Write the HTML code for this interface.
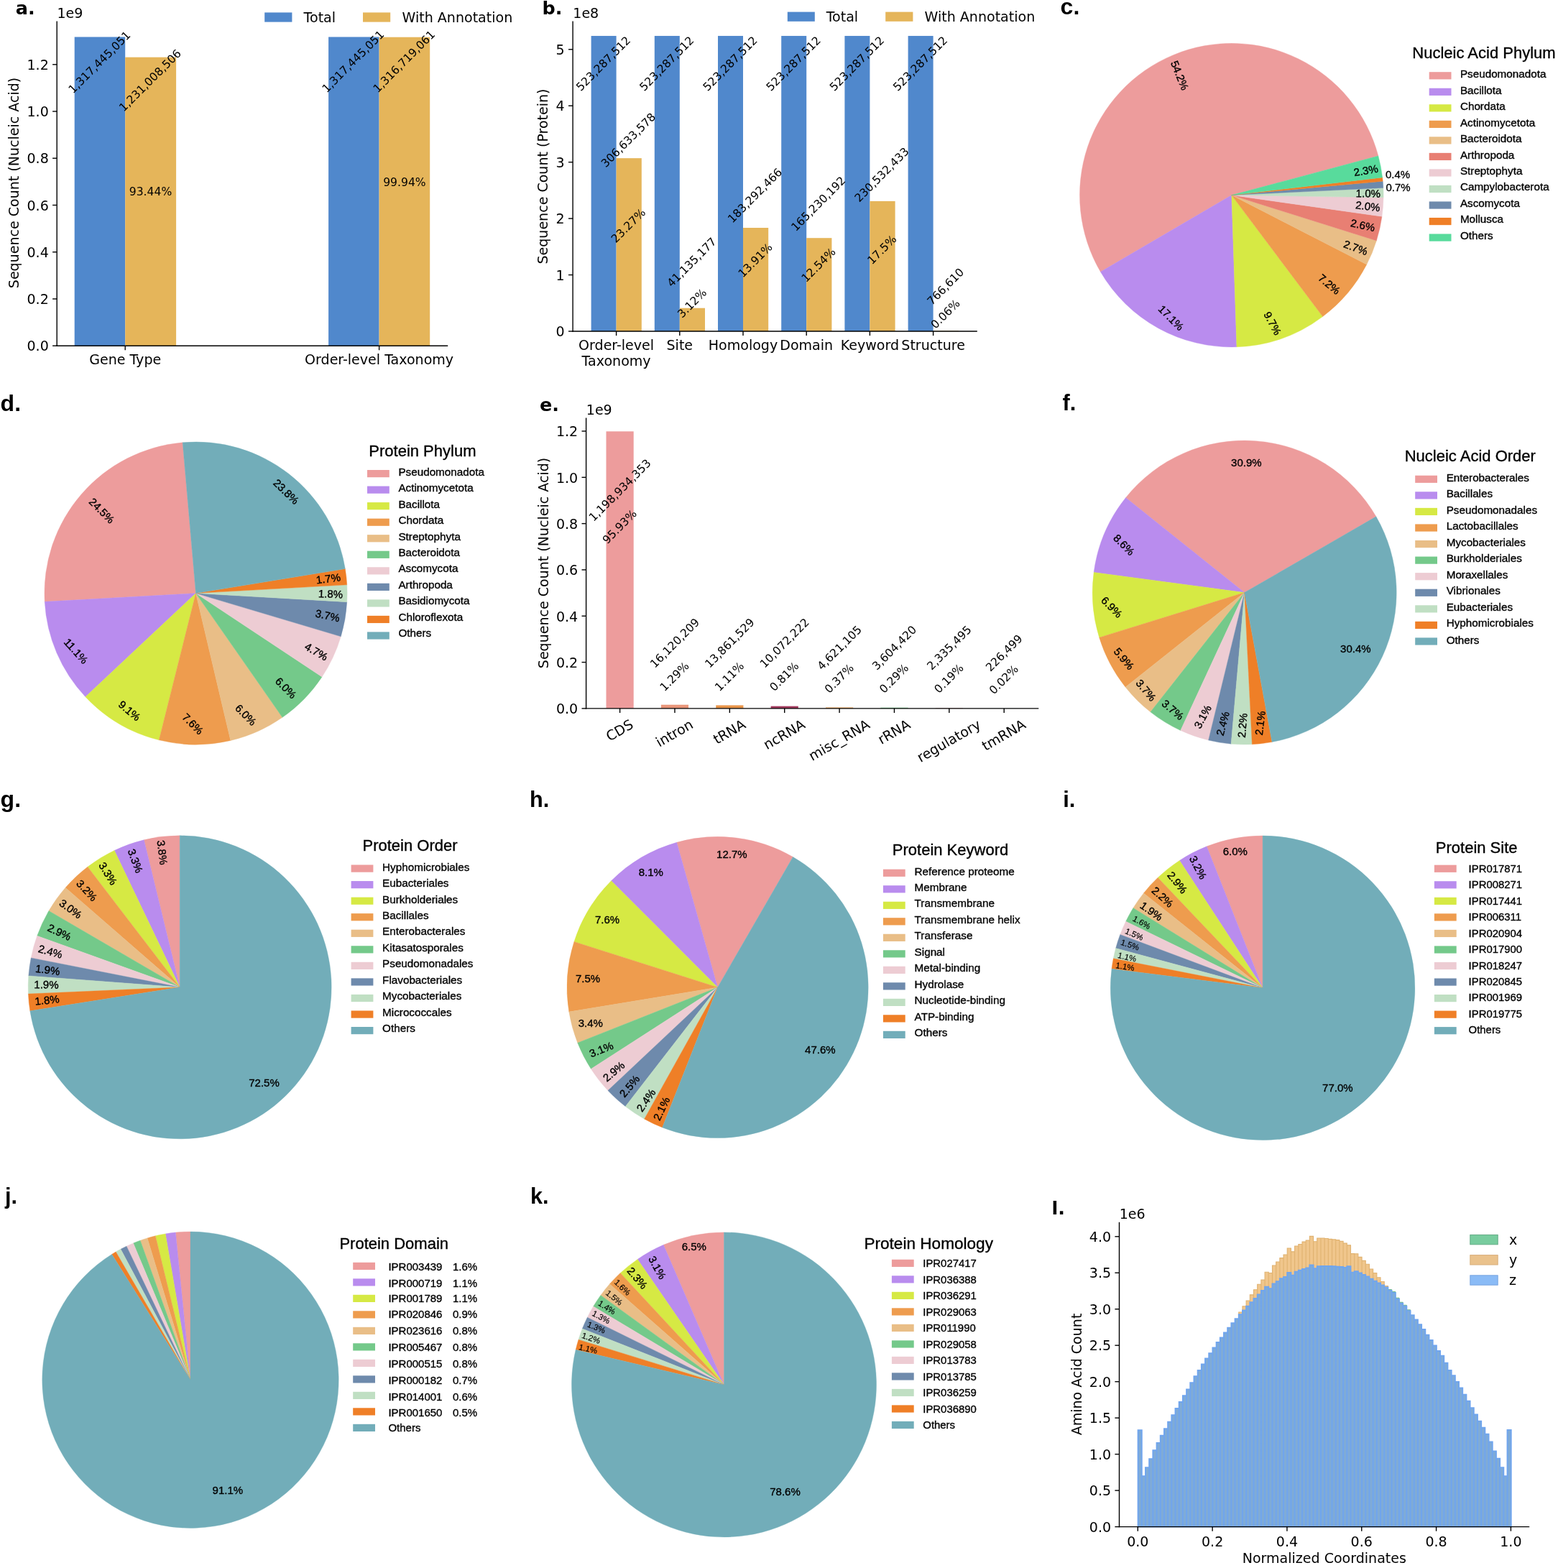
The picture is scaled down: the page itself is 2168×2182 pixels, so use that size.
<!DOCTYPE html>
<html lang="en">
<head>
<meta charset="utf-8">
<title>Dataset annotation statistics</title>
<style>
html, body { margin: 0; padding: 0; background: #ffffff; }
body { width: 2168px; height: 2182px; overflow: hidden; }
svg { display: block; }
text { fill: #000; }
.dv { font-family: 'DejaVu Sans', 'Liberation Sans', sans-serif; }
.dvb { font-family: 'DejaVu Sans', 'Liberation Sans', sans-serif; font-weight: bold; }
.ls { font-family: 'Liberation Sans', 'DejaVu Sans', sans-serif; }
.lsb { font-family: 'Liberation Sans', 'DejaVu Sans', sans-serif; font-weight: bold; }
</style>
</head>
<body>
<svg width="2168" height="2182" viewBox="0 0 2168 2182">
<rect x="0" y="0" width="2168" height="2182" fill="#ffffff"/>
<g id="pa">
<rect x="103.70" y="51.45" width="70.50" height="429.75" fill="#5088cc"/>
<rect x="174.20" y="79.65" width="70.90" height="401.55" fill="#e5b55a"/>
<rect x="457.10" y="51.45" width="70.50" height="429.75" fill="#5088cc"/>
<rect x="527.60" y="51.69" width="70.60" height="429.51" fill="#e5b55a"/>
<line x1="79.20" y1="29.50" x2="79.20" y2="481.90" stroke="#000" stroke-width="1.4"/>
<line x1="78.50" y1="481.20" x2="623.20" y2="481.20" stroke="#000" stroke-width="1.4"/>
<line x1="73.10" y1="481.20" x2="79.20" y2="481.20" stroke="#000" stroke-width="1.4"/>
<text class="dv" x="67.80" y="481.50" dy="0.365em" font-size="19.05" text-anchor="end">0.0</text>
<line x1="73.10" y1="415.96" x2="79.20" y2="415.96" stroke="#000" stroke-width="1.4"/>
<text class="dv" x="67.80" y="416.26" dy="0.365em" font-size="19.05" text-anchor="end">0.2</text>
<line x1="73.10" y1="350.72" x2="79.20" y2="350.72" stroke="#000" stroke-width="1.4"/>
<text class="dv" x="67.80" y="351.02" dy="0.365em" font-size="19.05" text-anchor="end">0.4</text>
<line x1="73.10" y1="285.48" x2="79.20" y2="285.48" stroke="#000" stroke-width="1.4"/>
<text class="dv" x="67.80" y="285.78" dy="0.365em" font-size="19.05" text-anchor="end">0.6</text>
<line x1="73.10" y1="220.24" x2="79.20" y2="220.24" stroke="#000" stroke-width="1.4"/>
<text class="dv" x="67.80" y="220.54" dy="0.365em" font-size="19.05" text-anchor="end">0.8</text>
<line x1="73.10" y1="155.00" x2="79.20" y2="155.00" stroke="#000" stroke-width="1.4"/>
<text class="dv" x="67.80" y="155.30" dy="0.365em" font-size="19.05" text-anchor="end">1.0</text>
<line x1="73.10" y1="89.76" x2="79.20" y2="89.76" stroke="#000" stroke-width="1.4"/>
<text class="dv" x="67.80" y="90.06" dy="0.365em" font-size="19.05" text-anchor="end">1.2</text>
<line x1="174.20" y1="481.20" x2="174.20" y2="487.30" stroke="#000" stroke-width="1.4"/>
<line x1="527.60" y1="481.20" x2="527.60" y2="487.30" stroke="#000" stroke-width="1.4"/>
<text class="dv" transform="translate(20.60 254.50) rotate(-90.00)" dy="0.27em" font-size="19.05" text-anchor="middle">Sequence Count (Nucleic Acid)</text>
<text class="dv" x="79.40" y="24.90" font-size="19.05">1e9</text>
<text class="dv" x="174.20" y="506.90" font-size="19.05" text-anchor="middle">Gene Type</text>
<text class="dv" x="527.60" y="506.90" font-size="19.05" text-anchor="middle">Order-level Taxonomy</text>
<text class="dv" transform="translate(138.80 87.10) rotate(-45.00)" dy="0.30em" font-size="15.6" text-anchor="middle">1,317,445,051</text>
<text class="dv" transform="translate(209.30 112.40) rotate(-45.00)" dy="0.30em" font-size="15.6" text-anchor="middle">1,231,008,506</text>
<text class="dv" transform="translate(491.80 86.00) rotate(-45.00)" dy="0.30em" font-size="15.6" text-anchor="middle">1,317,445,051</text>
<text class="dv" transform="translate(562.70 86.00) rotate(-45.00)" dy="0.30em" font-size="15.6" text-anchor="middle">1,316,719,061</text>
<text class="dv" x="209.50" y="266.70" dy="0.36em" font-size="15.6" text-anchor="middle">93.44%</text>
<text class="dv" x="562.90" y="253.60" dy="0.36em" font-size="15.6" text-anchor="middle">99.94%</text>
<rect x="368.20" y="17.40" width="38.20" height="13.20" fill="#5088cc"/>
<text class="dv" x="422.60" y="24.00" dy="0.36em" font-size="19.05">Total</text>
<rect x="505.00" y="17.40" width="38.20" height="13.20" fill="#e5b55a"/>
<text class="dv" x="559.60" y="24.00" dy="0.36em" font-size="19.05">With Annotation</text>
<text class="dvb" x="21.70" y="20.20" font-size="25.5">a.</text>
</g>
<g id="pb">
<rect x="822.60" y="49.96" width="35.00" height="411.04" fill="#5088cc"/>
<rect x="857.60" y="220.14" width="35.20" height="240.86" fill="#e5b55a"/>
<rect x="910.80" y="49.96" width="35.00" height="411.04" fill="#5088cc"/>
<rect x="945.80" y="428.69" width="35.20" height="32.31" fill="#e5b55a"/>
<rect x="999.00" y="49.96" width="35.00" height="411.04" fill="#5088cc"/>
<rect x="1034.00" y="317.02" width="35.20" height="143.98" fill="#e5b55a"/>
<rect x="1087.20" y="49.96" width="35.00" height="411.04" fill="#5088cc"/>
<rect x="1122.20" y="331.21" width="35.20" height="129.79" fill="#e5b55a"/>
<rect x="1175.40" y="49.96" width="35.00" height="411.04" fill="#5088cc"/>
<rect x="1210.40" y="279.92" width="35.20" height="181.08" fill="#e5b55a"/>
<rect x="1263.60" y="49.96" width="35.00" height="411.04" fill="#5088cc"/>
<rect x="1298.60" y="460.40" width="35.20" height="0.60" fill="#e5b55a"/>
<line x1="797.10" y1="29.50" x2="797.10" y2="461.70" stroke="#000" stroke-width="1.4"/>
<line x1="796.40" y1="461.00" x2="1359.80" y2="461.00" stroke="#000" stroke-width="1.4"/>
<line x1="791.00" y1="461.00" x2="797.10" y2="461.00" stroke="#000" stroke-width="1.4"/>
<text class="dv" x="785.70" y="461.30" dy="0.365em" font-size="19.05" text-anchor="end">0</text>
<line x1="791.00" y1="382.55" x2="797.10" y2="382.55" stroke="#000" stroke-width="1.4"/>
<text class="dv" x="785.70" y="382.85" dy="0.365em" font-size="19.05" text-anchor="end">1</text>
<line x1="791.00" y1="304.10" x2="797.10" y2="304.10" stroke="#000" stroke-width="1.4"/>
<text class="dv" x="785.70" y="304.40" dy="0.365em" font-size="19.05" text-anchor="end">2</text>
<line x1="791.00" y1="225.65" x2="797.10" y2="225.65" stroke="#000" stroke-width="1.4"/>
<text class="dv" x="785.70" y="225.95" dy="0.365em" font-size="19.05" text-anchor="end">3</text>
<line x1="791.00" y1="147.20" x2="797.10" y2="147.20" stroke="#000" stroke-width="1.4"/>
<text class="dv" x="785.70" y="147.50" dy="0.365em" font-size="19.05" text-anchor="end">4</text>
<line x1="791.00" y1="68.75" x2="797.10" y2="68.75" stroke="#000" stroke-width="1.4"/>
<text class="dv" x="785.70" y="69.05" dy="0.365em" font-size="19.05" text-anchor="end">5</text>
<line x1="857.60" y1="461.00" x2="857.60" y2="467.10" stroke="#000" stroke-width="1.4"/>
<line x1="945.80" y1="461.00" x2="945.80" y2="467.10" stroke="#000" stroke-width="1.4"/>
<line x1="1034.00" y1="461.00" x2="1034.00" y2="467.10" stroke="#000" stroke-width="1.4"/>
<line x1="1122.20" y1="461.00" x2="1122.20" y2="467.10" stroke="#000" stroke-width="1.4"/>
<line x1="1210.40" y1="461.00" x2="1210.40" y2="467.10" stroke="#000" stroke-width="1.4"/>
<line x1="1298.60" y1="461.00" x2="1298.60" y2="467.10" stroke="#000" stroke-width="1.4"/>
<text class="dv" transform="translate(757.30 245.50) rotate(-90.00)" dy="0.27em" font-size="19.05" text-anchor="middle">Sequence Count (Protein)</text>
<text class="dv" x="797.30" y="24.90" font-size="19.05">1e8</text>
<text class="dv" x="857.60" y="486.60" font-size="19.05" text-anchor="middle">Order-level</text>
<text class="dv" x="945.80" y="486.60" font-size="19.05" text-anchor="middle">Site</text>
<text class="dv" x="1034.00" y="486.60" font-size="19.05" text-anchor="middle">Homology</text>
<text class="dv" x="1122.20" y="486.60" font-size="19.05" text-anchor="middle">Domain</text>
<text class="dv" x="1210.40" y="486.60" font-size="19.05" text-anchor="middle">Keyword</text>
<text class="dv" x="1298.60" y="486.60" font-size="19.05" text-anchor="middle">Structure</text>
<text class="dv" x="857.60" y="509.00" font-size="19.05" text-anchor="middle">Taxonomy</text>
<text class="dv" transform="translate(840.00 89.00) rotate(-45.00)" dy="0.30em" font-size="15.6" text-anchor="middle">523,287,512</text>
<text class="dv" transform="translate(928.20 89.00) rotate(-45.00)" dy="0.30em" font-size="15.6" text-anchor="middle">523,287,512</text>
<text class="dv" transform="translate(1016.40 89.00) rotate(-45.00)" dy="0.30em" font-size="15.6" text-anchor="middle">523,287,512</text>
<text class="dv" transform="translate(1104.60 89.00) rotate(-45.00)" dy="0.30em" font-size="15.6" text-anchor="middle">523,287,512</text>
<text class="dv" transform="translate(1192.80 89.00) rotate(-45.00)" dy="0.30em" font-size="15.6" text-anchor="middle">523,287,512</text>
<text class="dv" transform="translate(1281.00 89.00) rotate(-45.00)" dy="0.30em" font-size="15.6" text-anchor="middle">523,287,512</text>
<text class="dv" transform="translate(874.80 195.40) rotate(-45.00)" dy="0.30em" font-size="15.6" text-anchor="middle">306,633,578</text>
<text class="dv" transform="translate(874.80 314.50) rotate(-45.00)" dy="0.30em" font-size="15.6" text-anchor="middle">23.27%</text>
<text class="dv" transform="translate(963.00 365.40) rotate(-45.00)" dy="0.30em" font-size="15.6" text-anchor="middle">41,135,177</text>
<text class="dv" transform="translate(963.40 422.40) rotate(-45.00)" dy="0.30em" font-size="15.6" text-anchor="middle">3.12%</text>
<text class="dv" transform="translate(1051.00 272.50) rotate(-45.00)" dy="0.30em" font-size="15.6" text-anchor="middle">183,292,466</text>
<text class="dv" transform="translate(1051.50 362.70) rotate(-45.00)" dy="0.30em" font-size="15.6" text-anchor="middle">13.91%</text>
<text class="dv" transform="translate(1139.20 284.00) rotate(-45.00)" dy="0.30em" font-size="15.6" text-anchor="middle">165,230,192</text>
<text class="dv" transform="translate(1139.50 369.20) rotate(-45.00)" dy="0.30em" font-size="15.6" text-anchor="middle">12.54%</text>
<text class="dv" transform="translate(1227.40 243.60) rotate(-45.00)" dy="0.30em" font-size="15.6" text-anchor="middle">230,532,433</text>
<text class="dv" transform="translate(1227.70 348.00) rotate(-45.00)" dy="0.30em" font-size="15.6" text-anchor="middle">17.5%</text>
<text class="dv" transform="translate(1316.20 399.30) rotate(-45.00)" dy="0.30em" font-size="15.6" text-anchor="middle">766,610</text>
<text class="dv" transform="translate(1316.00 437.50) rotate(-45.00)" dy="0.30em" font-size="15.6" text-anchor="middle">0.06%</text>
<rect x="1095.80" y="16.60" width="38.00" height="13.20" fill="#5088cc"/>
<text class="dv" x="1149.70" y="23.20" dy="0.36em" font-size="19.05">Total</text>
<rect x="1232.20" y="16.60" width="38.20" height="13.20" fill="#e5b55a"/>
<text class="dv" x="1286.60" y="23.20" dy="0.36em" font-size="19.05">With Annotation</text>
<text class="dvb" x="754.60" y="20.20" font-size="25.5">b.</text>
</g>
<g id="pc">
<path d="M1713.80 271.60L1917.90 216.91A211.30 211.30 0 1 0 1531.39 378.26Z" fill="#ed9c9c" stroke="#ed9c9c" stroke-width="0.4"/>
<path d="M1713.80 271.60L1531.39 378.26A211.30 211.30 0 0 0 1720.94 482.78Z" fill="#b98cee" stroke="#b98cee" stroke-width="0.4"/>
<path d="M1713.80 271.60L1720.94 482.78A211.30 211.30 0 0 0 1840.64 440.59Z" fill="#d6e944" stroke="#d6e944" stroke-width="0.4"/>
<path d="M1713.80 271.60L1840.64 440.59A211.30 211.30 0 0 0 1901.80 368.06Z" fill="#ee9c4e" stroke="#ee9c4e" stroke-width="0.4"/>
<path d="M1713.80 271.60L1901.80 368.06A211.30 211.30 0 0 0 1915.40 334.90Z" fill="#e9be87" stroke="#e9be87" stroke-width="0.4"/>
<path d="M1713.80 271.60L1915.40 334.90A211.30 211.30 0 0 0 1923.01 301.24Z" fill="#e87f73" stroke="#e87f73" stroke-width="0.4"/>
<path d="M1713.80 271.60L1923.01 301.24A211.30 211.30 0 0 0 1925.08 274.76Z" fill="#edccd3" stroke="#edccd3" stroke-width="0.4"/>
<path d="M1713.80 271.60L1925.08 274.76A211.30 211.30 0 0 0 1924.86 261.47Z" fill="#c0dfc3" stroke="#c0dfc3" stroke-width="0.4"/>
<path d="M1713.80 271.60L1924.86 261.47A211.30 211.30 0 0 0 1924.21 252.19Z" fill="#6e8aac" stroke="#6e8aac" stroke-width="0.4"/>
<path d="M1713.80 271.60L1924.21 252.19A211.30 211.30 0 0 0 1923.65 246.90Z" fill="#ef7f27" stroke="#ef7f27" stroke-width="0.4"/>
<path d="M1713.80 271.60L1923.65 246.90A211.30 211.30 0 0 0 1917.90 216.91Z" fill="#58db9c" stroke="#58db9c" stroke-width="0.4"/>
<text class="ls" transform="translate(1641.30 105.00) rotate(68.00)" dy="0.33em" font-size="15.0" text-anchor="middle" stroke="#000" stroke-width="0.35">54.2%</text>
<text class="ls" transform="translate(1629.30 442.50) rotate(45.00)" dy="0.33em" font-size="15.0" text-anchor="middle" stroke="#000" stroke-width="0.35">17.1%</text>
<text class="ls" transform="translate(1770.50 450.00) rotate(62.00)" dy="0.33em" font-size="15.0" text-anchor="middle" stroke="#000" stroke-width="0.35">9.7%</text>
<text class="ls" transform="translate(1849.50 395.80) rotate(40.00)" dy="0.33em" font-size="15.0" text-anchor="middle" stroke="#000" stroke-width="0.35">7.2%</text>
<text class="ls" transform="translate(1886.30 345.00) rotate(20.00)" dy="0.33em" font-size="15.0" text-anchor="middle" stroke="#000" stroke-width="0.35">2.7%</text>
<text class="ls" transform="translate(1896.30 313.80) rotate(12.00)" dy="0.33em" font-size="15.0" text-anchor="middle" stroke="#000" stroke-width="0.35">2.6%</text>
<text class="ls" transform="translate(1903.30 287.50) rotate(7.00)" dy="0.33em" font-size="15.0" text-anchor="middle" stroke="#000" stroke-width="0.35">2.0%</text>
<text class="ls" transform="translate(1903.80 269.50) rotate(1.00)" dy="0.33em" font-size="15.0" text-anchor="middle" stroke="#000" stroke-width="0.35">1.0%</text>
<text class="ls" transform="translate(1900.70 237.50) rotate(-10.00)" dy="0.33em" font-size="15.0" text-anchor="middle" stroke="#000" stroke-width="0.35">2.3%</text>
<text class="ls" transform="translate(1945.10 242.70) rotate(0.00)" dy="0.33em" font-size="15.0" text-anchor="middle" stroke="#000" stroke-width="0.35">0.4%</text>
<text class="ls" transform="translate(1945.50 260.60) rotate(0.00)" dy="0.33em" font-size="15.0" text-anchor="middle" stroke="#000" stroke-width="0.35">0.7%</text>
<text class="ls" x="1965.30" y="80.90" font-size="22.0" stroke="#000" stroke-width="0.35">Nucleic Acid Phylum</text>
<rect x="1988.70" y="100.20" width="30.80" height="10.20" fill="#ed9c9c"/>
<text class="ls" x="2031.90" y="108.20" font-size="15.25" stroke="#000" stroke-width="0.35">Pseudomonadota</text>
<rect x="1988.70" y="122.73" width="30.80" height="10.20" fill="#b98cee"/>
<text class="ls" x="2031.90" y="130.66" font-size="15.25" stroke="#000" stroke-width="0.35">Bacillota</text>
<rect x="1988.70" y="145.26" width="30.80" height="10.20" fill="#d6e944"/>
<text class="ls" x="2031.90" y="153.12" font-size="15.25" stroke="#000" stroke-width="0.35">Chordata</text>
<rect x="1988.70" y="167.79" width="30.80" height="10.20" fill="#ee9c4e"/>
<text class="ls" x="2031.90" y="175.58" font-size="15.25" stroke="#000" stroke-width="0.35">Actinomycetota</text>
<rect x="1988.70" y="190.32" width="30.80" height="10.20" fill="#e9be87"/>
<text class="ls" x="2031.90" y="198.04" font-size="15.25" stroke="#000" stroke-width="0.35">Bacteroidota</text>
<rect x="1988.70" y="212.85" width="30.80" height="10.20" fill="#e87f73"/>
<text class="ls" x="2031.90" y="220.50" font-size="15.25" stroke="#000" stroke-width="0.35">Arthropoda</text>
<rect x="1988.70" y="235.38" width="30.80" height="10.20" fill="#edccd3"/>
<text class="ls" x="2031.90" y="242.96" font-size="15.25" stroke="#000" stroke-width="0.35">Streptophyta</text>
<rect x="1988.70" y="257.91" width="30.80" height="10.20" fill="#c0dfc3"/>
<text class="ls" x="2031.90" y="265.42" font-size="15.25" stroke="#000" stroke-width="0.35">Campylobacterota</text>
<rect x="1988.70" y="280.44" width="30.80" height="10.20" fill="#6e8aac"/>
<text class="ls" x="2031.90" y="287.88" font-size="15.25" stroke="#000" stroke-width="0.35">Ascomycota</text>
<rect x="1988.70" y="302.97" width="30.80" height="10.20" fill="#ef7f27"/>
<text class="ls" x="2031.90" y="310.34" font-size="15.25" stroke="#000" stroke-width="0.35">Mollusca</text>
<rect x="1988.70" y="325.50" width="30.80" height="10.20" fill="#58db9c"/>
<text class="ls" x="2031.90" y="332.80" font-size="15.25" stroke="#000" stroke-width="0.35">Others</text>
<text class="lsb" x="1475.60" y="19.90" font-size="32">c.</text>
</g>
<g id="pd">
<path d="M272.50 825.60L254.15 615.80A210.60 210.60 0 0 0 62.23 837.36Z" fill="#ed9c9c" stroke="#ed9c9c" stroke-width="0.4"/>
<path d="M272.50 825.60L62.23 837.36A210.60 210.60 0 0 0 118.88 969.66Z" fill="#b98cee" stroke="#b98cee" stroke-width="0.4"/>
<path d="M272.50 825.60L118.88 969.66A210.60 210.60 0 0 0 221.27 1029.87Z" fill="#d6e944" stroke="#d6e944" stroke-width="0.4"/>
<path d="M272.50 825.60L221.27 1029.87A210.60 210.60 0 0 0 320.88 1030.57Z" fill="#ee9c4e" stroke="#ee9c4e" stroke-width="0.4"/>
<path d="M272.50 825.60L320.88 1030.57A210.60 210.60 0 0 0 392.93 998.37Z" fill="#e9be87" stroke="#e9be87" stroke-width="0.4"/>
<path d="M272.50 825.60L392.93 998.37A210.60 210.60 0 0 0 448.08 941.90Z" fill="#74c98a" stroke="#74c98a" stroke-width="0.4"/>
<path d="M272.50 825.60L448.08 941.90A210.60 210.60 0 0 0 474.32 885.77Z" fill="#edccd3" stroke="#edccd3" stroke-width="0.4"/>
<path d="M272.50 825.60L474.32 885.77A210.60 210.60 0 0 0 482.76 837.65Z" fill="#6e8aac" stroke="#6e8aac" stroke-width="0.4"/>
<path d="M272.50 825.60L482.76 837.65A210.60 210.60 0 0 0 482.77 813.84Z" fill="#c0dfc3" stroke="#c0dfc3" stroke-width="0.4"/>
<path d="M272.50 825.60L482.77 813.84A210.60 210.60 0 0 0 480.32 791.49Z" fill="#ef7f27" stroke="#ef7f27" stroke-width="0.4"/>
<path d="M272.50 825.60L480.32 791.49A210.60 210.60 0 0 0 254.15 615.80Z" fill="#72adb9" stroke="#72adb9" stroke-width="0.4"/>
<text class="ls" transform="translate(141.30 710.80) rotate(45.00)" dy="0.33em" font-size="15.0" text-anchor="middle" stroke="#000" stroke-width="0.35">24.5%</text>
<text class="ls" transform="translate(398.00 684.50) rotate(44.00)" dy="0.33em" font-size="15.0" text-anchor="middle" stroke="#000" stroke-width="0.35">23.8%</text>
<text class="ls" transform="translate(105.50 906.30) rotate(48.00)" dy="0.33em" font-size="15.0" text-anchor="middle" stroke="#000" stroke-width="0.35">11.1%</text>
<text class="ls" transform="translate(180.00 989.30) rotate(40.00)" dy="0.33em" font-size="15.0" text-anchor="middle" stroke="#000" stroke-width="0.35">9.1%</text>
<text class="ls" transform="translate(268.00 1007.50) rotate(45.00)" dy="0.33em" font-size="15.0" text-anchor="middle" stroke="#000" stroke-width="0.35">7.6%</text>
<text class="ls" transform="translate(341.80 995.00) rotate(45.00)" dy="0.33em" font-size="15.0" text-anchor="middle" stroke="#000" stroke-width="0.35">6.0%</text>
<text class="ls" transform="translate(397.50 957.50) rotate(45.00)" dy="0.33em" font-size="15.0" text-anchor="middle" stroke="#000" stroke-width="0.35">6.0%</text>
<text class="ls" transform="translate(440.00 907.00) rotate(30.00)" dy="0.33em" font-size="15.0" text-anchor="middle" stroke="#000" stroke-width="0.35">4.7%</text>
<text class="ls" transform="translate(455.80 857.00) rotate(12.00)" dy="0.33em" font-size="15.0" text-anchor="middle" stroke="#000" stroke-width="0.35">3.7%</text>
<text class="ls" transform="translate(460.00 826.80) rotate(2.00)" dy="0.33em" font-size="15.0" text-anchor="middle" stroke="#000" stroke-width="0.35">1.8%</text>
<text class="ls" transform="translate(456.80 805.50) rotate(-7.00)" dy="0.33em" font-size="15.0" text-anchor="middle" stroke="#000" stroke-width="0.35">1.7%</text>
<text class="ls" x="513.30" y="634.50" font-size="22.0" stroke="#000" stroke-width="0.35">Protein Phylum</text>
<rect x="511.00" y="654.00" width="30.80" height="10.20" fill="#ed9c9c"/>
<text class="ls" x="554.40" y="661.80" font-size="15.25" stroke="#000" stroke-width="0.35">Pseudomonadota</text>
<rect x="511.00" y="676.54" width="30.80" height="10.20" fill="#b98cee"/>
<text class="ls" x="554.40" y="684.24" font-size="15.25" stroke="#000" stroke-width="0.35">Actinomycetota</text>
<rect x="511.00" y="699.08" width="30.80" height="10.20" fill="#d6e944"/>
<text class="ls" x="554.40" y="706.68" font-size="15.25" stroke="#000" stroke-width="0.35">Bacillota</text>
<rect x="511.00" y="721.62" width="30.80" height="10.20" fill="#ee9c4e"/>
<text class="ls" x="554.40" y="729.12" font-size="15.25" stroke="#000" stroke-width="0.35">Chordata</text>
<rect x="511.00" y="744.16" width="30.80" height="10.20" fill="#e9be87"/>
<text class="ls" x="554.40" y="751.56" font-size="15.25" stroke="#000" stroke-width="0.35">Streptophyta</text>
<rect x="511.00" y="766.70" width="30.80" height="10.20" fill="#74c98a"/>
<text class="ls" x="554.40" y="774.00" font-size="15.25" stroke="#000" stroke-width="0.35">Bacteroidota</text>
<rect x="511.00" y="789.24" width="30.80" height="10.20" fill="#edccd3"/>
<text class="ls" x="554.40" y="796.44" font-size="15.25" stroke="#000" stroke-width="0.35">Ascomycota</text>
<rect x="511.00" y="811.78" width="30.80" height="10.20" fill="#6e8aac"/>
<text class="ls" x="554.40" y="818.88" font-size="15.25" stroke="#000" stroke-width="0.35">Arthropoda</text>
<rect x="511.00" y="834.32" width="30.80" height="10.20" fill="#c0dfc3"/>
<text class="ls" x="554.40" y="841.32" font-size="15.25" stroke="#000" stroke-width="0.35">Basidiomycota</text>
<rect x="511.00" y="856.86" width="30.80" height="10.20" fill="#ef7f27"/>
<text class="ls" x="554.40" y="863.76" font-size="15.25" stroke="#000" stroke-width="0.35">Chloroflexota</text>
<rect x="511.00" y="879.40" width="30.80" height="10.20" fill="#72adb9"/>
<text class="ls" x="554.40" y="886.20" font-size="15.25" stroke="#000" stroke-width="0.35">Others</text>
<text class="lsb" x="0.60" y="571.60" font-size="32">d.</text>
</g>
<g id="pe">
<rect x="843.50" y="600.32" width="38.20" height="385.58" fill="#ed9c9c"/>
<rect x="919.87" y="980.72" width="38.20" height="5.18" fill="#e9967a"/>
<rect x="996.24" y="981.44" width="38.20" height="4.46" fill="#e8954a"/>
<rect x="1072.61" y="982.66" width="38.20" height="3.24" fill="#a23b5e"/>
<rect x="1148.98" y="984.41" width="38.20" height="1.49" fill="#e9a25a"/>
<rect x="1225.35" y="984.74" width="38.20" height="1.16" fill="#74c98a"/>
<rect x="1301.72" y="985.15" width="38.20" height="0.75" fill="#d9a0a0"/>
<rect x="1378.09" y="985.83" width="38.20" height="0.07" fill="#9aa"/>
<line x1="815.60" y1="581.60" x2="815.60" y2="986.60" stroke="#000" stroke-width="1.4"/>
<line x1="814.90" y1="985.90" x2="1445.30" y2="985.90" stroke="#000" stroke-width="1.4"/>
<line x1="809.50" y1="985.90" x2="815.60" y2="985.90" stroke="#000" stroke-width="1.4"/>
<text class="dv" x="804.20" y="986.20" dy="0.365em" font-size="19.05" text-anchor="end">0.0</text>
<line x1="809.50" y1="921.58" x2="815.60" y2="921.58" stroke="#000" stroke-width="1.4"/>
<text class="dv" x="804.20" y="921.88" dy="0.365em" font-size="19.05" text-anchor="end">0.2</text>
<line x1="809.50" y1="857.26" x2="815.60" y2="857.26" stroke="#000" stroke-width="1.4"/>
<text class="dv" x="804.20" y="857.56" dy="0.365em" font-size="19.05" text-anchor="end">0.4</text>
<line x1="809.50" y1="792.94" x2="815.60" y2="792.94" stroke="#000" stroke-width="1.4"/>
<text class="dv" x="804.20" y="793.24" dy="0.365em" font-size="19.05" text-anchor="end">0.6</text>
<line x1="809.50" y1="728.62" x2="815.60" y2="728.62" stroke="#000" stroke-width="1.4"/>
<text class="dv" x="804.20" y="728.92" dy="0.365em" font-size="19.05" text-anchor="end">0.8</text>
<line x1="809.50" y1="664.30" x2="815.60" y2="664.30" stroke="#000" stroke-width="1.4"/>
<text class="dv" x="804.20" y="664.60" dy="0.365em" font-size="19.05" text-anchor="end">1.0</text>
<line x1="809.50" y1="599.98" x2="815.60" y2="599.98" stroke="#000" stroke-width="1.4"/>
<text class="dv" x="804.20" y="600.28" dy="0.365em" font-size="19.05" text-anchor="end">1.2</text>
<line x1="862.60" y1="985.90" x2="862.60" y2="992.00" stroke="#000" stroke-width="1.4"/>
<line x1="938.97" y1="985.90" x2="938.97" y2="992.00" stroke="#000" stroke-width="1.4"/>
<line x1="1015.34" y1="985.90" x2="1015.34" y2="992.00" stroke="#000" stroke-width="1.4"/>
<line x1="1091.71" y1="985.90" x2="1091.71" y2="992.00" stroke="#000" stroke-width="1.4"/>
<line x1="1168.08" y1="985.90" x2="1168.08" y2="992.00" stroke="#000" stroke-width="1.4"/>
<line x1="1244.45" y1="985.90" x2="1244.45" y2="992.00" stroke="#000" stroke-width="1.4"/>
<line x1="1320.82" y1="985.90" x2="1320.82" y2="992.00" stroke="#000" stroke-width="1.4"/>
<line x1="1397.19" y1="985.90" x2="1397.19" y2="992.00" stroke="#000" stroke-width="1.4"/>
<text class="dv" transform="translate(757.60 783.50) rotate(-90.00)" dy="0.27em" font-size="19.05" text-anchor="middle">Sequence Count (Nucleic Acid)</text>
<text class="dv" x="815.80" y="577.00" font-size="19.05">1e9</text>
<text class="dv" transform="translate(862.60 1017.08) rotate(-30.00)" dy="0.30em" font-size="19.05" text-anchor="middle">CDS</text>
<text class="dv" transform="translate(938.97 1021.06) rotate(-30.00)" dy="0.30em" font-size="19.05" text-anchor="middle">intron</text>
<text class="dv" transform="translate(1015.34 1019.07) rotate(-30.00)" dy="0.30em" font-size="19.05" text-anchor="middle">tRNA</text>
<text class="dv" transform="translate(1091.71 1022.84) rotate(-30.00)" dy="0.30em" font-size="19.05" text-anchor="middle">ncRNA</text>
<text class="dv" transform="translate(1168.08 1030.64) rotate(-30.00)" dy="0.30em" font-size="19.05" text-anchor="middle">misc_RNA</text>
<text class="dv" transform="translate(1244.45 1019.16) rotate(-30.00)" dy="0.30em" font-size="19.05" text-anchor="middle">rRNA</text>
<text class="dv" transform="translate(1320.82 1031.69) rotate(-30.00)" dy="0.30em" font-size="19.05" text-anchor="middle">regulatory</text>
<text class="dv" transform="translate(1397.19 1023.70) rotate(-30.00)" dy="0.30em" font-size="19.05" text-anchor="middle">tmRNA</text>
<text class="dv" transform="translate(863.10 682.60) rotate(-45.00)" dy="0.30em" font-size="15.6" text-anchor="middle">1,198,934,353</text>
<text class="dv" transform="translate(862.60 733.50) rotate(-45.00)" dy="0.30em" font-size="15.6" text-anchor="middle">95.93%</text>
<text class="dv" transform="translate(939.47 895.30) rotate(-45.00)" dy="0.30em" font-size="15.6" text-anchor="middle">16,120,209</text>
<text class="dv" transform="translate(938.97 942.00) rotate(-45.00)" dy="0.30em" font-size="15.6" text-anchor="middle">1.29%</text>
<text class="dv" transform="translate(1015.84 895.30) rotate(-45.00)" dy="0.30em" font-size="15.6" text-anchor="middle">13,861,529</text>
<text class="dv" transform="translate(1015.34 942.00) rotate(-45.00)" dy="0.30em" font-size="15.6" text-anchor="middle">1.11%</text>
<text class="dv" transform="translate(1092.21 895.30) rotate(-45.00)" dy="0.30em" font-size="15.6" text-anchor="middle">10,072,222</text>
<text class="dv" transform="translate(1091.71 942.00) rotate(-45.00)" dy="0.30em" font-size="15.6" text-anchor="middle">0.81%</text>
<text class="dv" transform="translate(1168.58 901.90) rotate(-45.00)" dy="0.30em" font-size="15.6" text-anchor="middle">4,621,105</text>
<text class="dv" transform="translate(1168.08 944.70) rotate(-45.00)" dy="0.30em" font-size="15.6" text-anchor="middle">0.37%</text>
<text class="dv" transform="translate(1244.95 901.90) rotate(-45.00)" dy="0.30em" font-size="15.6" text-anchor="middle">3,604,420</text>
<text class="dv" transform="translate(1244.45 944.70) rotate(-45.00)" dy="0.30em" font-size="15.6" text-anchor="middle">0.29%</text>
<text class="dv" transform="translate(1321.32 901.90) rotate(-45.00)" dy="0.30em" font-size="15.6" text-anchor="middle">2,335,495</text>
<text class="dv" transform="translate(1320.82 944.70) rotate(-45.00)" dy="0.30em" font-size="15.6" text-anchor="middle">0.19%</text>
<text class="dv" transform="translate(1397.69 909.20) rotate(-45.00)" dy="0.30em" font-size="15.6" text-anchor="middle">226,499</text>
<text class="dv" transform="translate(1397.19 946.20) rotate(-45.00)" dy="0.30em" font-size="15.6" text-anchor="middle">0.02%</text>
<text class="dvb" x="751.00" y="572.00" font-size="25.5">e.</text>
</g>
<g id="pf">
<path d="M1731.70 824.60L1914.86 718.85A211.50 211.50 0 0 0 1566.52 692.51Z" fill="#ed9c9c" stroke="#ed9c9c" stroke-width="0.4"/>
<path d="M1731.70 824.60L1566.52 692.51A211.50 211.50 0 0 0 1522.09 796.42Z" fill="#b98cee" stroke="#b98cee" stroke-width="0.4"/>
<path d="M1731.70 824.60L1522.09 796.42A211.50 211.50 0 0 0 1529.67 887.17Z" fill="#d6e944" stroke="#d6e944" stroke-width="0.4"/>
<path d="M1731.70 824.60L1529.67 887.17A211.50 211.50 0 0 0 1566.11 956.17Z" fill="#ee9c4e" stroke="#ee9c4e" stroke-width="0.4"/>
<path d="M1731.70 824.60L1566.11 956.17A211.50 211.50 0 0 0 1600.91 990.81Z" fill="#e9be87" stroke="#e9be87" stroke-width="0.4"/>
<path d="M1731.70 824.60L1600.91 990.81A211.50 211.50 0 0 0 1642.77 1016.49Z" fill="#74c98a" stroke="#74c98a" stroke-width="0.4"/>
<path d="M1731.70 824.60L1642.77 1016.49A211.50 211.50 0 0 0 1681.63 1030.09Z" fill="#edccd3" stroke="#edccd3" stroke-width="0.4"/>
<path d="M1731.70 824.60L1681.63 1030.09A211.50 211.50 0 0 0 1713.10 1035.28Z" fill="#6e8aac" stroke="#6e8aac" stroke-width="0.4"/>
<path d="M1731.70 824.60L1713.10 1035.28A211.50 211.50 0 0 0 1742.34 1035.83Z" fill="#c0dfc3" stroke="#c0dfc3" stroke-width="0.4"/>
<path d="M1731.70 824.60L1742.34 1035.83A211.50 211.50 0 0 0 1770.06 1032.59Z" fill="#ef7f27" stroke="#ef7f27" stroke-width="0.4"/>
<path d="M1731.70 824.60L1770.06 1032.59A211.50 211.50 0 0 0 1914.86 718.85Z" fill="#72adb9" stroke="#72adb9" stroke-width="0.4"/>
<text class="ls" transform="translate(1734.30 643.80) rotate(0.00)" dy="0.33em" font-size="15.0" text-anchor="middle" stroke="#000" stroke-width="0.35">30.9%</text>
<text class="ls" transform="translate(1886.30 903.30) rotate(0.00)" dy="0.33em" font-size="15.0" text-anchor="middle" stroke="#000" stroke-width="0.35">30.4%</text>
<text class="ls" transform="translate(1563.80 758.30) rotate(45.00)" dy="0.33em" font-size="15.0" text-anchor="middle" stroke="#000" stroke-width="0.35">8.6%</text>
<text class="ls" transform="translate(1546.80 845.00) rotate(45.00)" dy="0.33em" font-size="15.0" text-anchor="middle" stroke="#000" stroke-width="0.35">6.9%</text>
<text class="ls" transform="translate(1563.80 917.00) rotate(50.00)" dy="0.33em" font-size="15.0" text-anchor="middle" stroke="#000" stroke-width="0.35">5.9%</text>
<text class="ls" transform="translate(1594.50 960.80) rotate(50.00)" dy="0.33em" font-size="15.0" text-anchor="middle" stroke="#000" stroke-width="0.35">3.7%</text>
<text class="ls" transform="translate(1631.80 988.00) rotate(40.00)" dy="0.33em" font-size="15.0" text-anchor="middle" stroke="#000" stroke-width="0.35">3.7%</text>
<text class="ls" transform="translate(1673.80 997.50) rotate(-62.00)" dy="0.33em" font-size="15.0" text-anchor="middle" stroke="#000" stroke-width="0.35">3.1%</text>
<text class="ls" transform="translate(1701.80 1007.00) rotate(-75.00)" dy="0.33em" font-size="15.0" text-anchor="middle" stroke="#000" stroke-width="0.35">2.4%</text>
<text class="ls" transform="translate(1729.30 1009.50) rotate(-85.00)" dy="0.33em" font-size="15.0" text-anchor="middle" stroke="#000" stroke-width="0.35">2.2%</text>
<text class="ls" transform="translate(1753.80 1006.30) rotate(-83.00)" dy="0.33em" font-size="15.0" text-anchor="middle" stroke="#000" stroke-width="0.35">2.1%</text>
<text class="ls" x="1954.70" y="642.30" font-size="22.0" stroke="#000" stroke-width="0.35">Nucleic Acid Order</text>
<rect x="1969.20" y="661.70" width="30.80" height="10.20" fill="#ed9c9c"/>
<text class="ls" x="2012.70" y="669.50" font-size="15.25" stroke="#000" stroke-width="0.35">Enterobacterales</text>
<rect x="1969.20" y="684.27" width="30.80" height="10.20" fill="#b98cee"/>
<text class="ls" x="2012.70" y="692.05" font-size="15.25" stroke="#000" stroke-width="0.35">Bacillales</text>
<rect x="1969.20" y="706.84" width="30.80" height="10.20" fill="#d6e944"/>
<text class="ls" x="2012.70" y="714.60" font-size="15.25" stroke="#000" stroke-width="0.35">Pseudomonadales</text>
<rect x="1969.20" y="729.41" width="30.80" height="10.20" fill="#ee9c4e"/>
<text class="ls" x="2012.70" y="737.15" font-size="15.25" stroke="#000" stroke-width="0.35">Lactobacillales</text>
<rect x="1969.20" y="751.98" width="30.80" height="10.20" fill="#e9be87"/>
<text class="ls" x="2012.70" y="759.70" font-size="15.25" stroke="#000" stroke-width="0.35">Mycobacteriales</text>
<rect x="1969.20" y="774.55" width="30.80" height="10.20" fill="#74c98a"/>
<text class="ls" x="2012.70" y="782.25" font-size="15.25" stroke="#000" stroke-width="0.35">Burkholderiales</text>
<rect x="1969.20" y="797.12" width="30.80" height="10.20" fill="#edccd3"/>
<text class="ls" x="2012.70" y="804.80" font-size="15.25" stroke="#000" stroke-width="0.35">Moraxellales</text>
<rect x="1969.20" y="819.69" width="30.80" height="10.20" fill="#6e8aac"/>
<text class="ls" x="2012.70" y="827.35" font-size="15.25" stroke="#000" stroke-width="0.35">Vibrionales</text>
<rect x="1969.20" y="842.26" width="30.80" height="10.20" fill="#c0dfc3"/>
<text class="ls" x="2012.70" y="849.90" font-size="15.25" stroke="#000" stroke-width="0.35">Eubacteriales</text>
<rect x="1969.20" y="864.83" width="30.80" height="10.20" fill="#ef7f27"/>
<text class="ls" x="2012.70" y="872.45" font-size="15.25" stroke="#000" stroke-width="0.35">Hyphomicrobiales</text>
<rect x="1969.20" y="887.40" width="30.80" height="10.20" fill="#72adb9"/>
<text class="ls" x="2012.70" y="896.20" font-size="15.25" stroke="#000" stroke-width="0.35">Others</text>
<text class="lsb" x="1478.60" y="570.70" font-size="30.8">f.</text>
</g>
<g id="pg">
<path d="M250.20 1373.80L250.20 1162.80A211.00 211.00 0 0 0 200.30 1168.79Z" fill="#ed9c9c" stroke="#ed9c9c" stroke-width="0.4"/>
<path d="M250.20 1373.80L200.30 1168.79A211.00 211.00 0 0 0 159.16 1183.45Z" fill="#b98cee" stroke="#b98cee" stroke-width="0.4"/>
<path d="M250.20 1373.80L159.16 1183.45A211.00 211.00 0 0 0 121.93 1206.27Z" fill="#d6e944" stroke="#d6e944" stroke-width="0.4"/>
<path d="M250.20 1373.80L121.93 1206.27A211.00 211.00 0 0 0 91.05 1235.26Z" fill="#ee9c4e" stroke="#ee9c4e" stroke-width="0.4"/>
<path d="M250.20 1373.80L91.05 1235.26A211.00 211.00 0 0 0 67.91 1267.54Z" fill="#e9be87" stroke="#e9be87" stroke-width="0.4"/>
<path d="M250.20 1373.80L67.91 1267.54A211.00 211.00 0 0 0 51.67 1302.33Z" fill="#74c98a" stroke="#74c98a" stroke-width="0.4"/>
<path d="M250.20 1373.80L51.67 1302.33A211.00 211.00 0 0 0 43.19 1332.96Z" fill="#edccd3" stroke="#edccd3" stroke-width="0.4"/>
<path d="M250.20 1373.80L43.19 1332.96A211.00 211.00 0 0 0 39.80 1357.91Z" fill="#6e8aac" stroke="#6e8aac" stroke-width="0.4"/>
<path d="M250.20 1373.80L39.80 1357.91A211.00 211.00 0 0 0 39.40 1383.08Z" fill="#c0dfc3" stroke="#c0dfc3" stroke-width="0.4"/>
<path d="M250.20 1373.80L39.40 1383.08A211.00 211.00 0 0 0 41.80 1406.81Z" fill="#ef7f27" stroke="#ef7f27" stroke-width="0.4"/>
<path d="M250.20 1373.80L41.80 1406.81A211.00 211.00 0 1 0 250.20 1162.80Z" fill="#72adb9" stroke="#72adb9" stroke-width="0.4"/>
<text class="ls" transform="translate(225.50 1186.30) rotate(83.00)" dy="0.33em" font-size="15.0" text-anchor="middle" stroke="#000" stroke-width="0.35">3.8%</text>
<text class="ls" transform="translate(188.00 1198.00) rotate(70.00)" dy="0.33em" font-size="15.0" text-anchor="middle" stroke="#000" stroke-width="0.35">3.3%</text>
<text class="ls" transform="translate(150.00 1215.80) rotate(58.00)" dy="0.33em" font-size="15.0" text-anchor="middle" stroke="#000" stroke-width="0.35">3.3%</text>
<text class="ls" transform="translate(120.50 1239.30) rotate(47.00)" dy="0.33em" font-size="15.0" text-anchor="middle" stroke="#000" stroke-width="0.35">3.2%</text>
<text class="ls" transform="translate(98.00 1265.00) rotate(36.00)" dy="0.33em" font-size="15.0" text-anchor="middle" stroke="#000" stroke-width="0.35">3.0%</text>
<text class="ls" transform="translate(82.50 1297.50) rotate(25.00)" dy="0.33em" font-size="15.0" text-anchor="middle" stroke="#000" stroke-width="0.35">2.9%</text>
<text class="ls" transform="translate(70.00 1324.50) rotate(15.50)" dy="0.33em" font-size="15.0" text-anchor="middle" stroke="#000" stroke-width="0.35">2.4%</text>
<text class="ls" transform="translate(66.30 1350.00) rotate(7.50)" dy="0.33em" font-size="15.0" text-anchor="middle" stroke="#000" stroke-width="0.35">1.9%</text>
<text class="ls" transform="translate(64.50 1370.50) rotate(1.00)" dy="0.33em" font-size="15.0" text-anchor="middle" stroke="#000" stroke-width="0.35">1.9%</text>
<text class="ls" transform="translate(65.50 1392.00) rotate(-6.00)" dy="0.33em" font-size="15.0" text-anchor="middle" stroke="#000" stroke-width="0.35">1.8%</text>
<text class="ls" transform="translate(367.50 1507.50) rotate(0.00)" dy="0.33em" font-size="15.0" text-anchor="middle" stroke="#000" stroke-width="0.35">72.5%</text>
<text class="ls" x="504.50" y="1184.20" font-size="22.0" stroke="#000" stroke-width="0.35">Protein Order</text>
<rect x="488.60" y="1203.50" width="30.80" height="10.20" fill="#ed9c9c"/>
<text class="ls" x="532.10" y="1211.65" font-size="15.25" stroke="#000" stroke-width="0.35">Hyphomicrobiales</text>
<rect x="488.60" y="1226.05" width="30.80" height="10.20" fill="#b98cee"/>
<text class="ls" x="532.10" y="1234.10" font-size="15.25" stroke="#000" stroke-width="0.35">Eubacteriales</text>
<rect x="488.60" y="1248.60" width="30.80" height="10.20" fill="#d6e944"/>
<text class="ls" x="532.10" y="1256.54" font-size="15.25" stroke="#000" stroke-width="0.35">Burkholderiales</text>
<rect x="488.60" y="1271.15" width="30.80" height="10.20" fill="#ee9c4e"/>
<text class="ls" x="532.10" y="1278.99" font-size="15.25" stroke="#000" stroke-width="0.35">Bacillales</text>
<rect x="488.60" y="1293.70" width="30.80" height="10.20" fill="#e9be87"/>
<text class="ls" x="532.10" y="1301.43" font-size="15.25" stroke="#000" stroke-width="0.35">Enterobacterales</text>
<rect x="488.60" y="1316.25" width="30.80" height="10.20" fill="#74c98a"/>
<text class="ls" x="532.10" y="1323.88" font-size="15.25" stroke="#000" stroke-width="0.35">Kitasatosporales</text>
<rect x="488.60" y="1338.80" width="30.80" height="10.20" fill="#edccd3"/>
<text class="ls" x="532.10" y="1346.32" font-size="15.25" stroke="#000" stroke-width="0.35">Pseudomonadales</text>
<rect x="488.60" y="1361.35" width="30.80" height="10.20" fill="#6e8aac"/>
<text class="ls" x="532.10" y="1368.76" font-size="15.25" stroke="#000" stroke-width="0.35">Flavobacteriales</text>
<rect x="488.60" y="1383.90" width="30.80" height="10.20" fill="#c0dfc3"/>
<text class="ls" x="532.10" y="1391.21" font-size="15.25" stroke="#000" stroke-width="0.35">Mycobacteriales</text>
<rect x="488.60" y="1406.45" width="30.80" height="10.20" fill="#ef7f27"/>
<text class="ls" x="532.10" y="1413.65" font-size="15.25" stroke="#000" stroke-width="0.35">Micrococcales</text>
<rect x="488.60" y="1429.00" width="30.80" height="10.20" fill="#72adb9"/>
<text class="ls" x="532.10" y="1436.10" font-size="15.25" stroke="#000" stroke-width="0.35">Others</text>
<text class="lsb" x="0.60" y="1122.80" font-size="32">g.</text>
</g>
<g id="ph">
<path d="M998.60 1374.00L1103.40 1192.48A209.60 209.60 0 0 0 941.65 1172.29Z" fill="#ed9c9c" stroke="#ed9c9c" stroke-width="0.4"/>
<path d="M998.60 1374.00L941.65 1172.29A209.60 209.60 0 0 0 850.51 1225.67Z" fill="#b98cee" stroke="#b98cee" stroke-width="0.4"/>
<path d="M998.60 1374.00L850.51 1225.67A209.60 209.60 0 0 0 798.88 1310.42Z" fill="#d6e944" stroke="#d6e944" stroke-width="0.4"/>
<path d="M998.60 1374.00L798.88 1310.42A209.60 209.60 0 0 0 791.80 1408.12Z" fill="#ee9c4e" stroke="#ee9c4e" stroke-width="0.4"/>
<path d="M998.60 1374.00L791.80 1408.12A209.60 209.60 0 0 0 803.75 1451.23Z" fill="#e9be87" stroke="#e9be87" stroke-width="0.4"/>
<path d="M998.60 1374.00L803.75 1451.23A209.60 209.60 0 0 0 822.40 1487.52Z" fill="#74c98a" stroke="#74c98a" stroke-width="0.4"/>
<path d="M998.60 1374.00L822.40 1487.52A209.60 209.60 0 0 0 845.92 1517.60Z" fill="#edccd3" stroke="#edccd3" stroke-width="0.4"/>
<path d="M998.60 1374.00L845.92 1517.60A209.60 209.60 0 0 0 870.29 1539.73Z" fill="#6e8aac" stroke="#6e8aac" stroke-width="0.4"/>
<path d="M998.60 1374.00L870.29 1539.73A209.60 209.60 0 0 0 896.67 1557.14Z" fill="#c0dfc3" stroke="#c0dfc3" stroke-width="0.4"/>
<path d="M998.60 1374.00L896.67 1557.14A209.60 209.60 0 0 0 921.67 1568.97Z" fill="#ef7f27" stroke="#ef7f27" stroke-width="0.4"/>
<path d="M998.60 1374.00L921.67 1568.97A209.60 209.60 0 0 0 1103.40 1192.48Z" fill="#72adb9" stroke="#72adb9" stroke-width="0.4"/>
<text class="ls" transform="translate(1018.30 1188.80) rotate(0.00)" dy="0.33em" font-size="15.0" text-anchor="middle" stroke="#000" stroke-width="0.35">12.7%</text>
<text class="ls" transform="translate(905.80 1214.30) rotate(0.00)" dy="0.33em" font-size="15.0" text-anchor="middle" stroke="#000" stroke-width="0.35">8.1%</text>
<text class="ls" transform="translate(845.00 1280.00) rotate(0.00)" dy="0.33em" font-size="15.0" text-anchor="middle" stroke="#000" stroke-width="0.35">7.6%</text>
<text class="ls" transform="translate(818.00 1362.00) rotate(0.00)" dy="0.33em" font-size="15.0" text-anchor="middle" stroke="#000" stroke-width="0.35">7.5%</text>
<text class="ls" transform="translate(821.80 1423.80) rotate(0.00)" dy="0.33em" font-size="15.0" text-anchor="middle" stroke="#000" stroke-width="0.35">3.4%</text>
<text class="ls" transform="translate(836.80 1460.80) rotate(-22.00)" dy="0.33em" font-size="15.0" text-anchor="middle" stroke="#000" stroke-width="0.35">3.1%</text>
<text class="ls" transform="translate(854.30 1491.30) rotate(-40.00)" dy="0.33em" font-size="15.0" text-anchor="middle" stroke="#000" stroke-width="0.35">2.9%</text>
<text class="ls" transform="translate(876.30 1511.80) rotate(-50.00)" dy="0.33em" font-size="15.0" text-anchor="middle" stroke="#000" stroke-width="0.35">2.5%</text>
<text class="ls" transform="translate(899.30 1531.30) rotate(-55.00)" dy="0.33em" font-size="15.0" text-anchor="middle" stroke="#000" stroke-width="0.35">2.4%</text>
<text class="ls" transform="translate(920.80 1543.00) rotate(-65.00)" dy="0.33em" font-size="15.0" text-anchor="middle" stroke="#000" stroke-width="0.35">2.1%</text>
<text class="ls" transform="translate(1141.30 1460.80) rotate(0.00)" dy="0.33em" font-size="15.0" text-anchor="middle" stroke="#000" stroke-width="0.35">47.6%</text>
<text class="ls" x="1241.80" y="1190.10" font-size="22.0" stroke="#000" stroke-width="0.35">Protein Keyword</text>
<rect x="1228.90" y="1209.70" width="30.80" height="10.20" fill="#ed9c9c"/>
<text class="ls" x="1272.60" y="1217.60" font-size="15.25" stroke="#000" stroke-width="0.35">Reference proteome</text>
<rect x="1228.90" y="1232.21" width="30.80" height="10.20" fill="#b98cee"/>
<text class="ls" x="1272.60" y="1240.04" font-size="15.25" stroke="#000" stroke-width="0.35">Membrane</text>
<rect x="1228.90" y="1254.72" width="30.80" height="10.20" fill="#d6e944"/>
<text class="ls" x="1272.60" y="1262.48" font-size="15.25" stroke="#000" stroke-width="0.35">Transmembrane</text>
<rect x="1228.90" y="1277.23" width="30.80" height="10.20" fill="#ee9c4e"/>
<text class="ls" x="1272.60" y="1284.92" font-size="15.25" stroke="#000" stroke-width="0.35">Transmembrane helix</text>
<rect x="1228.90" y="1299.74" width="30.80" height="10.20" fill="#e9be87"/>
<text class="ls" x="1272.60" y="1307.36" font-size="15.25" stroke="#000" stroke-width="0.35">Transferase</text>
<rect x="1228.90" y="1322.25" width="30.80" height="10.20" fill="#74c98a"/>
<text class="ls" x="1272.60" y="1329.80" font-size="15.25" stroke="#000" stroke-width="0.35">Signal</text>
<rect x="1228.90" y="1344.76" width="30.80" height="10.20" fill="#edccd3"/>
<text class="ls" x="1272.60" y="1352.24" font-size="15.25" stroke="#000" stroke-width="0.35">Metal-binding</text>
<rect x="1228.90" y="1367.27" width="30.80" height="10.20" fill="#6e8aac"/>
<text class="ls" x="1272.60" y="1374.68" font-size="15.25" stroke="#000" stroke-width="0.35">Hydrolase</text>
<rect x="1228.90" y="1389.78" width="30.80" height="10.20" fill="#c0dfc3"/>
<text class="ls" x="1272.60" y="1397.12" font-size="15.25" stroke="#000" stroke-width="0.35">Nucleotide-binding</text>
<rect x="1228.90" y="1412.29" width="30.80" height="10.20" fill="#ef7f27"/>
<text class="ls" x="1272.60" y="1419.56" font-size="15.25" stroke="#000" stroke-width="0.35">ATP-binding</text>
<rect x="1228.90" y="1434.80" width="30.80" height="10.20" fill="#72adb9"/>
<text class="ls" x="1272.60" y="1442.00" font-size="15.25" stroke="#000" stroke-width="0.35">Others</text>
<text class="lsb" x="737.10" y="1122.80" font-size="30.6">h.</text>
</g>
<g id="pi">
<path d="M1757.10 1374.80L1757.10 1163.00A211.80 211.80 0 0 0 1679.13 1177.87Z" fill="#ed9c9c" stroke="#ed9c9c" stroke-width="0.4"/>
<path d="M1757.10 1374.80L1679.13 1177.87A211.80 211.80 0 0 0 1641.37 1197.41Z" fill="#b98cee" stroke="#b98cee" stroke-width="0.4"/>
<path d="M1757.10 1374.80L1641.37 1197.41A211.80 211.80 0 0 0 1611.15 1221.32Z" fill="#d6e944" stroke="#d6e944" stroke-width="0.4"/>
<path d="M1757.10 1374.80L1611.15 1221.32A211.80 211.80 0 0 0 1591.39 1242.89Z" fill="#ee9c4e" stroke="#ee9c4e" stroke-width="0.4"/>
<path d="M1757.10 1374.80L1591.39 1242.89A211.80 211.80 0 0 0 1576.86 1263.57Z" fill="#e9be87" stroke="#e9be87" stroke-width="0.4"/>
<path d="M1757.10 1374.80L1576.86 1263.57A211.80 211.80 0 0 0 1566.61 1282.22Z" fill="#74c98a" stroke="#74c98a" stroke-width="0.4"/>
<path d="M1757.10 1374.80L1566.61 1282.22A211.80 211.80 0 0 0 1558.74 1300.56Z" fill="#edccd3" stroke="#edccd3" stroke-width="0.4"/>
<path d="M1757.10 1374.80L1558.74 1300.56A211.80 211.80 0 0 0 1552.63 1319.55Z" fill="#6e8aac" stroke="#6e8aac" stroke-width="0.4"/>
<path d="M1757.10 1374.80L1552.63 1319.55A211.80 211.80 0 0 0 1549.31 1333.81Z" fill="#c0dfc3" stroke="#c0dfc3" stroke-width="0.4"/>
<path d="M1757.10 1374.80L1549.31 1333.81A211.80 211.80 0 0 0 1546.97 1348.25Z" fill="#ef7f27" stroke="#ef7f27" stroke-width="0.4"/>
<path d="M1757.10 1374.80L1546.97 1348.25A211.80 211.80 0 1 0 1757.10 1163.00Z" fill="#72adb9" stroke="#72adb9" stroke-width="0.4"/>
<text class="ls" transform="translate(1718.80 1185.00) rotate(0.00)" dy="0.33em" font-size="15.0" text-anchor="middle" stroke="#000" stroke-width="0.35">6.0%</text>
<text class="ls" transform="translate(1666.80 1207.30) rotate(62.00)" dy="0.33em" font-size="15.0" text-anchor="middle" stroke="#000" stroke-width="0.35">3.2%</text>
<text class="ls" transform="translate(1638.00 1228.30) rotate(51.00)" dy="0.33em" font-size="15.0" text-anchor="middle" stroke="#000" stroke-width="0.35">2.9%</text>
<text class="ls" transform="translate(1617.60 1248.50) rotate(42.00)" dy="0.33em" font-size="15.0" text-anchor="middle" stroke="#000" stroke-width="0.35">2.2%</text>
<text class="ls" transform="translate(1602.00 1268.30) rotate(35.00)" dy="0.33em" font-size="15.0" text-anchor="middle" stroke="#000" stroke-width="0.35">1.9%</text>
<text class="ls" transform="translate(1588.60 1283.80) rotate(29.00)" dy="0.33em" font-size="11.5" text-anchor="middle" stroke="#000" stroke-width="0.15">1.6%</text>
<text class="ls" transform="translate(1578.30 1300.50) rotate(23.00)" dy="0.33em" font-size="11.5" text-anchor="middle" stroke="#000" stroke-width="0.15">1.5%</text>
<text class="ls" transform="translate(1572.40 1315.00) rotate(18.00)" dy="0.33em" font-size="11.5" text-anchor="middle" stroke="#000" stroke-width="0.15">1.5%</text>
<text class="ls" transform="translate(1568.30 1332.00) rotate(13.00)" dy="0.33em" font-size="11.5" text-anchor="middle" stroke="#000" stroke-width="0.15">1.1%</text>
<text class="ls" transform="translate(1565.50 1345.30) rotate(9.00)" dy="0.33em" font-size="11.5" text-anchor="middle" stroke="#000" stroke-width="0.15">1.1%</text>
<text class="ls" transform="translate(1861.30 1514.50) rotate(0.00)" dy="0.33em" font-size="15.0" text-anchor="middle" stroke="#000" stroke-width="0.35">77.0%</text>
<text class="ls" x="1997.80" y="1186.50" font-size="22.0" stroke="#000" stroke-width="0.35">Protein Site</text>
<rect x="1995.90" y="1203.70" width="30.80" height="10.20" fill="#ed9c9c"/>
<text class="ls" x="2043.60" y="1213.70" font-size="14.9" stroke="#000" stroke-width="0.35">IPR017871</text>
<rect x="1995.90" y="1226.24" width="30.80" height="10.20" fill="#b98cee"/>
<text class="ls" x="2043.60" y="1236.17" font-size="14.9" stroke="#000" stroke-width="0.35">IPR008271</text>
<rect x="1995.90" y="1248.78" width="30.80" height="10.20" fill="#d6e944"/>
<text class="ls" x="2043.60" y="1258.64" font-size="14.9" stroke="#000" stroke-width="0.35">IPR017441</text>
<rect x="1995.90" y="1271.32" width="30.80" height="10.20" fill="#ee9c4e"/>
<text class="ls" x="2043.60" y="1281.11" font-size="14.9" stroke="#000" stroke-width="0.35">IPR006311</text>
<rect x="1995.90" y="1293.86" width="30.80" height="10.20" fill="#e9be87"/>
<text class="ls" x="2043.60" y="1303.58" font-size="14.9" stroke="#000" stroke-width="0.35">IPR020904</text>
<rect x="1995.90" y="1316.40" width="30.80" height="10.20" fill="#74c98a"/>
<text class="ls" x="2043.60" y="1326.05" font-size="14.9" stroke="#000" stroke-width="0.35">IPR017900</text>
<rect x="1995.90" y="1338.94" width="30.80" height="10.20" fill="#edccd3"/>
<text class="ls" x="2043.60" y="1348.52" font-size="14.9" stroke="#000" stroke-width="0.35">IPR018247</text>
<rect x="1995.90" y="1361.48" width="30.80" height="10.20" fill="#6e8aac"/>
<text class="ls" x="2043.60" y="1370.99" font-size="14.9" stroke="#000" stroke-width="0.35">IPR020845</text>
<rect x="1995.90" y="1384.02" width="30.80" height="10.20" fill="#c0dfc3"/>
<text class="ls" x="2043.60" y="1393.46" font-size="14.9" stroke="#000" stroke-width="0.35">IPR001969</text>
<rect x="1995.90" y="1406.56" width="30.80" height="10.20" fill="#ef7f27"/>
<text class="ls" x="2043.60" y="1415.93" font-size="14.9" stroke="#000" stroke-width="0.35">IPR019775</text>
<rect x="1995.90" y="1429.10" width="30.80" height="10.20" fill="#72adb9"/>
<text class="ls" x="2043.60" y="1438.40" font-size="14.9" stroke="#000" stroke-width="0.35">Others</text>
<text class="lsb" x="1479.30" y="1123.30" font-size="30.8">i.</text>
</g>
<g id="pj">
<path d="M265.00 1920.20L265.00 1714.00A206.20 206.20 0 0 0 244.31 1715.04Z" fill="#ed9c9c" stroke="#ed9c9c" stroke-width="0.4"/>
<path d="M265.00 1920.20L244.31 1715.04A206.20 206.20 0 0 0 230.19 1716.96Z" fill="#b98cee" stroke="#b98cee" stroke-width="0.4"/>
<path d="M265.00 1920.20L230.19 1716.96A206.20 206.20 0 0 0 216.23 1719.85Z" fill="#d6e944" stroke="#d6e944" stroke-width="0.4"/>
<path d="M265.00 1920.20L216.23 1719.85A206.20 206.20 0 0 0 204.99 1722.93Z" fill="#ee9c4e" stroke="#ee9c4e" stroke-width="0.4"/>
<path d="M265.00 1920.20L204.99 1722.93A206.20 206.20 0 0 0 195.15 1726.19Z" fill="#e9be87" stroke="#e9be87" stroke-width="0.4"/>
<path d="M265.00 1920.20L195.15 1726.19A206.20 206.20 0 0 0 185.49 1729.94Z" fill="#74c98a" stroke="#74c98a" stroke-width="0.4"/>
<path d="M265.00 1920.20L185.49 1729.94A206.20 206.20 0 0 0 176.03 1734.18Z" fill="#edccd3" stroke="#edccd3" stroke-width="0.4"/>
<path d="M265.00 1920.20L176.03 1734.18A206.20 206.20 0 0 0 167.94 1738.27Z" fill="#6e8aac" stroke="#6e8aac" stroke-width="0.4"/>
<path d="M265.00 1920.20L167.94 1738.27A206.20 206.20 0 0 0 161.15 1742.06Z" fill="#c0dfc3" stroke="#c0dfc3" stroke-width="0.4"/>
<path d="M265.00 1920.20L161.15 1742.06A206.20 206.20 0 0 0 155.61 1745.41Z" fill="#ef7f27" stroke="#ef7f27" stroke-width="0.4"/>
<path d="M265.00 1920.20L155.61 1745.41A206.20 206.20 0 1 0 265.00 1714.00Z" fill="#72adb9" stroke="#72adb9" stroke-width="0.4"/>
<text class="ls" transform="translate(316.80 2074.30) rotate(0.00)" dy="0.33em" font-size="15.0" text-anchor="middle" stroke="#000" stroke-width="0.35">91.1%</text>
<text class="ls" x="472.40" y="1737.70" font-size="22.0" stroke="#000" stroke-width="0.35">Protein Domain</text>
<rect x="491.20" y="1756.80" width="30.80" height="10.20" fill="#ed9c9c"/>
<text class="ls" x="540.40" y="1767.60" font-size="15.0" stroke="#000" stroke-width="0.35">IPR003439</text>
<text class="ls" x="630.00" y="1767.60" font-size="15.0" stroke="#000" stroke-width="0.35">1.6%</text>
<rect x="491.20" y="1779.30" width="30.80" height="10.20" fill="#b98cee"/>
<text class="ls" x="540.40" y="1790.50" font-size="15.0" stroke="#000" stroke-width="0.35">IPR000719</text>
<text class="ls" x="630.00" y="1790.50" font-size="15.0" stroke="#000" stroke-width="0.35">1.1%</text>
<rect x="491.20" y="1801.80" width="30.80" height="10.20" fill="#d6e944"/>
<text class="ls" x="540.40" y="1811.80" font-size="15.0" stroke="#000" stroke-width="0.35">IPR001789</text>
<text class="ls" x="630.00" y="1811.80" font-size="15.0" stroke="#000" stroke-width="0.35">1.1%</text>
<rect x="491.20" y="1824.30" width="30.80" height="10.20" fill="#ee9c4e"/>
<text class="ls" x="540.40" y="1834.30" font-size="15.0" stroke="#000" stroke-width="0.35">IPR020846</text>
<text class="ls" x="630.00" y="1834.30" font-size="15.0" stroke="#000" stroke-width="0.35">0.9%</text>
<rect x="491.20" y="1846.80" width="30.80" height="10.20" fill="#e9be87"/>
<text class="ls" x="540.40" y="1857.30" font-size="15.0" stroke="#000" stroke-width="0.35">IPR023616</text>
<text class="ls" x="630.00" y="1857.30" font-size="15.0" stroke="#000" stroke-width="0.35">0.8%</text>
<rect x="491.20" y="1869.30" width="30.80" height="10.20" fill="#74c98a"/>
<text class="ls" x="540.40" y="1880.20" font-size="15.0" stroke="#000" stroke-width="0.35">IPR005467</text>
<text class="ls" x="630.00" y="1880.20" font-size="15.0" stroke="#000" stroke-width="0.35">0.8%</text>
<rect x="491.20" y="1891.80" width="30.80" height="10.20" fill="#edccd3"/>
<text class="ls" x="540.40" y="1903.10" font-size="15.0" stroke="#000" stroke-width="0.35">IPR000515</text>
<text class="ls" x="630.00" y="1903.10" font-size="15.0" stroke="#000" stroke-width="0.35">0.8%</text>
<rect x="491.20" y="1914.30" width="30.80" height="10.20" fill="#6e8aac"/>
<text class="ls" x="540.40" y="1926.30" font-size="15.0" stroke="#000" stroke-width="0.35">IPR000182</text>
<text class="ls" x="630.00" y="1926.30" font-size="15.0" stroke="#000" stroke-width="0.35">0.7%</text>
<rect x="491.20" y="1936.80" width="30.80" height="10.20" fill="#c0dfc3"/>
<text class="ls" x="540.40" y="1949.30" font-size="15.0" stroke="#000" stroke-width="0.35">IPR014001</text>
<text class="ls" x="630.00" y="1949.30" font-size="15.0" stroke="#000" stroke-width="0.35">0.6%</text>
<rect x="491.20" y="1959.30" width="30.80" height="10.20" fill="#ef7f27"/>
<text class="ls" x="540.40" y="1970.50" font-size="15.0" stroke="#000" stroke-width="0.35">IPR001650</text>
<text class="ls" x="630.00" y="1970.50" font-size="15.0" stroke="#000" stroke-width="0.35">0.5%</text>
<rect x="491.20" y="1981.80" width="30.80" height="10.20" fill="#72adb9"/>
<text class="ls" x="540.40" y="1991.50" font-size="15.0" stroke="#000" stroke-width="0.35">Others</text>
<text class="lsb" x="6.90" y="1674.70" font-size="30.6">j.</text>
</g>
<g id="pk">
<path d="M1007.50 1926.90L1007.50 1714.90A212.00 212.00 0 0 0 923.23 1732.37Z" fill="#ed9c9c" stroke="#ed9c9c" stroke-width="0.4"/>
<path d="M1007.50 1926.90L923.23 1732.37A212.00 212.00 0 0 0 887.13 1752.38Z" fill="#b98cee" stroke="#b98cee" stroke-width="0.4"/>
<path d="M1007.50 1926.90L887.13 1752.38A212.00 212.00 0 0 0 863.23 1771.56Z" fill="#d6e944" stroke="#d6e944" stroke-width="0.4"/>
<path d="M1007.50 1926.90L863.23 1771.56A212.00 212.00 0 0 0 848.36 1786.84Z" fill="#ee9c4e" stroke="#ee9c4e" stroke-width="0.4"/>
<path d="M1007.50 1926.90L848.36 1786.84A212.00 212.00 0 0 0 835.87 1802.45Z" fill="#e9be87" stroke="#e9be87" stroke-width="0.4"/>
<path d="M1007.50 1926.90L835.87 1802.45A212.00 212.00 0 0 0 825.59 1818.03Z" fill="#74c98a" stroke="#74c98a" stroke-width="0.4"/>
<path d="M1007.50 1926.90L825.59 1818.03A212.00 212.00 0 0 0 817.31 1833.25Z" fill="#edccd3" stroke="#edccd3" stroke-width="0.4"/>
<path d="M1007.50 1926.90L817.31 1833.25A212.00 212.00 0 0 0 810.29 1849.09Z" fill="#6e8aac" stroke="#6e8aac" stroke-width="0.4"/>
<path d="M1007.50 1926.90L810.29 1849.09A212.00 212.00 0 0 0 804.99 1864.18Z" fill="#c0dfc3" stroke="#c0dfc3" stroke-width="0.4"/>
<path d="M1007.50 1926.90L804.99 1864.18A212.00 212.00 0 0 0 801.14 1878.33Z" fill="#ef7f27" stroke="#ef7f27" stroke-width="0.4"/>
<path d="M1007.50 1926.90L801.14 1878.33A212.00 212.00 0 1 0 1007.50 1714.90Z" fill="#72adb9" stroke="#72adb9" stroke-width="0.4"/>
<text class="ls" transform="translate(965.80 1735.00) rotate(0.00)" dy="0.33em" font-size="15.0" text-anchor="middle" stroke="#000" stroke-width="0.35">6.5%</text>
<text class="ls" transform="translate(914.40 1764.00) rotate(61.00)" dy="0.33em" font-size="15.0" text-anchor="middle" stroke="#000" stroke-width="0.35">3.1%</text>
<text class="ls" transform="translate(886.60 1778.60) rotate(49.00)" dy="0.33em" font-size="15.0" text-anchor="middle" stroke="#000" stroke-width="0.35">2.3%</text>
<text class="ls" transform="translate(866.00 1791.60) rotate(44.00)" dy="0.33em" font-size="11.5" text-anchor="middle" stroke="#000" stroke-width="0.15">1.6%</text>
<text class="ls" transform="translate(854.50 1806.00) rotate(39.00)" dy="0.33em" font-size="11.5" text-anchor="middle" stroke="#000" stroke-width="0.15">1.5%</text>
<text class="ls" transform="translate(844.40 1819.60) rotate(32.00)" dy="0.33em" font-size="11.5" text-anchor="middle" stroke="#000" stroke-width="0.15">1.4%</text>
<text class="ls" transform="translate(836.40 1833.00) rotate(28.00)" dy="0.33em" font-size="11.5" text-anchor="middle" stroke="#000" stroke-width="0.15">1.3%</text>
<text class="ls" transform="translate(829.80 1847.30) rotate(22.00)" dy="0.33em" font-size="11.5" text-anchor="middle" stroke="#000" stroke-width="0.15">1.3%</text>
<text class="ls" transform="translate(822.40 1862.20) rotate(19.00)" dy="0.33em" font-size="11.5" text-anchor="middle" stroke="#000" stroke-width="0.15">1.2%</text>
<text class="ls" transform="translate(818.40 1877.20) rotate(13.00)" dy="0.33em" font-size="11.5" text-anchor="middle" stroke="#000" stroke-width="0.15">1.1%</text>
<text class="ls" transform="translate(1092.50 2075.80) rotate(0.00)" dy="0.33em" font-size="15.0" text-anchor="middle" stroke="#000" stroke-width="0.35">78.6%</text>
<text class="ls" x="1202.40" y="1737.70" font-size="22.6" stroke="#000" stroke-width="0.35">Protein Homology</text>
<rect x="1240.90" y="1752.75" width="30.80" height="10.20" fill="#ed9c9c"/>
<text class="ls" x="1284.30" y="1763.40" font-size="14.9" stroke="#000" stroke-width="0.35">IPR027417</text>
<rect x="1240.90" y="1775.27" width="30.80" height="10.20" fill="#b98cee"/>
<text class="ls" x="1284.30" y="1785.87" font-size="14.9" stroke="#000" stroke-width="0.35">IPR036388</text>
<rect x="1240.90" y="1797.78" width="30.80" height="10.20" fill="#d6e944"/>
<text class="ls" x="1284.30" y="1808.34" font-size="14.9" stroke="#000" stroke-width="0.35">IPR036291</text>
<rect x="1240.90" y="1820.30" width="30.80" height="10.20" fill="#ee9c4e"/>
<text class="ls" x="1284.30" y="1830.81" font-size="14.9" stroke="#000" stroke-width="0.35">IPR029063</text>
<rect x="1240.90" y="1842.81" width="30.80" height="10.20" fill="#e9be87"/>
<text class="ls" x="1284.30" y="1853.28" font-size="14.9" stroke="#000" stroke-width="0.35">IPR011990</text>
<rect x="1240.90" y="1865.33" width="30.80" height="10.20" fill="#74c98a"/>
<text class="ls" x="1284.30" y="1875.75" font-size="14.9" stroke="#000" stroke-width="0.35">IPR029058</text>
<rect x="1240.90" y="1887.84" width="30.80" height="10.20" fill="#edccd3"/>
<text class="ls" x="1284.30" y="1898.22" font-size="14.9" stroke="#000" stroke-width="0.35">IPR013783</text>
<rect x="1240.90" y="1910.36" width="30.80" height="10.20" fill="#6e8aac"/>
<text class="ls" x="1284.30" y="1920.69" font-size="14.9" stroke="#000" stroke-width="0.35">IPR013785</text>
<rect x="1240.90" y="1932.87" width="30.80" height="10.20" fill="#c0dfc3"/>
<text class="ls" x="1284.30" y="1943.16" font-size="14.9" stroke="#000" stroke-width="0.35">IPR036259</text>
<rect x="1240.90" y="1955.38" width="30.80" height="10.20" fill="#ef7f27"/>
<text class="ls" x="1284.30" y="1965.63" font-size="14.9" stroke="#000" stroke-width="0.35">IPR036890</text>
<rect x="1240.90" y="1977.90" width="30.80" height="10.20" fill="#72adb9"/>
<text class="ls" x="1284.30" y="1988.10" font-size="14.9" stroke="#000" stroke-width="0.35">Others</text>
<text class="lsb" x="738.10" y="1674.70" font-size="30.6">k.</text>
</g>
<g id="pl">
<path d="M1931.40 1807.38V1794.56H1936.59V1807.38ZM1936.59 1810.41V1797.58H1941.78V1810.41ZM1941.78 1819.30V1806.17H1946.97V1819.30ZM1946.97 1825.25V1812.22H1952.16V1825.25ZM1952.16 1829.29V1816.26H1957.35V1829.29ZM1957.35 1835.65V1822.82H1962.54V1835.65Z" fill="#8ccf9c" stroke="#5fb27c" stroke-width="0.9"/>
<path d="M1723.76 1840.70V1825.95H1728.95V1840.70ZM1728.95 1835.05V1817.78H1734.14V1835.05ZM1734.14 1829.29V1810.00H1739.33V1829.29ZM1739.33 1823.84V1801.83H1744.52V1823.84ZM1744.52 1818.39V1794.76H1749.71V1818.39ZM1749.71 1812.94V1787.29H1754.90V1812.94ZM1754.90 1807.48V1781.13H1760.09V1807.48ZM1760.09 1802.13V1770.22H1765.28V1802.13ZM1765.28 1804.66V1771.44H1770.48V1804.66ZM1770.48 1797.99V1761.04H1775.67V1797.99ZM1775.67 1794.66V1755.99H1780.86V1794.66ZM1780.86 1790.83V1750.64H1786.05V1790.83ZM1786.05 1788.40V1745.99H1791.24V1788.40ZM1791.24 1782.55V1737.01H1796.43V1782.55ZM1796.43 1786.28V1741.85H1801.62V1786.28ZM1801.62 1781.34V1733.98H1806.81V1781.34ZM1806.81 1779.22V1731.56H1812.00V1779.22ZM1812.00 1777.50V1728.12H1817.19V1777.50ZM1817.19 1775.88V1726.00H1822.39V1775.88ZM1822.39 1771.95V1720.35H1827.58V1771.95ZM1827.58 1776.69V1727.72H1832.77V1776.69ZM1832.77 1773.66V1722.98H1837.96V1773.66ZM1837.96 1773.36V1722.98H1843.15V1773.36ZM1843.15 1773.36V1723.48H1848.34V1773.36ZM1848.34 1773.56V1724.39H1853.53V1773.56ZM1853.53 1773.76V1724.89H1858.72V1773.76ZM1858.72 1774.27V1725.60H1863.91V1774.27ZM1863.91 1774.57V1727.42H1869.11V1774.57ZM1869.10 1775.48V1730.14H1874.30V1775.48ZM1874.30 1773.76V1732.87H1879.49V1773.76ZM1879.49 1782.14V1744.58H1884.68V1782.14ZM1884.68 1780.83V1744.78H1889.87V1780.83ZM1889.87 1782.95V1749.33H1895.06V1782.95ZM1895.06 1785.48V1754.37H1900.25V1785.48ZM1900.25 1788.00V1759.32H1905.44V1788.00ZM1905.44 1791.33V1765.98H1910.63V1791.33ZM1910.63 1794.26V1771.44H1915.82V1794.26ZM1915.82 1797.09V1777.70H1921.01V1797.09ZM1921.01 1800.01V1783.45H1926.21V1800.01ZM1926.21 1803.04V1789.51H1931.40V1803.04Z" fill="#f0c68c" stroke="#e0b270" stroke-width="1.1"/>
<path d="M1583.60 2124.60V1990.32H1588.79V2124.60ZM1588.79 2124.60V2054.23H1593.98V2124.60ZM1593.98 2124.60V2042.11H1599.17V2124.60ZM1599.17 2124.60V2030.10H1604.36V2124.60ZM1604.36 2124.60V2018.18H1609.55V2124.60ZM1609.55 2124.60V2007.88H1614.75V2124.60ZM1614.75 2124.60V1997.69H1619.94V2124.60ZM1619.94 2124.60V1988.30H1625.13V2124.60ZM1625.13 2124.60V1978.71H1630.32V2124.60ZM1630.32 2124.60V1969.22H1635.51V2124.60ZM1635.51 2124.60V1960.03H1640.70V2124.60ZM1640.70 2124.60V1950.94H1645.89V2124.60ZM1645.89 2124.60V1942.26H1651.08V2124.60ZM1651.08 2124.60V1933.38H1656.27V2124.60ZM1656.27 2124.60V1924.09H1661.46V2124.60ZM1661.46 2124.60V1915.30H1666.66V2124.60ZM1666.66 2124.60V1906.92H1671.85V2124.60ZM1671.85 2124.60V1898.54H1677.04V2124.60ZM1677.04 2124.60V1890.57H1682.23V2124.60ZM1682.23 2124.60V1883.20H1687.42V2124.60ZM1687.42 2124.60V1875.53H1692.61V2124.60ZM1692.61 2124.60V1867.95H1697.80V2124.60ZM1697.80 2124.60V1861.39H1702.99V2124.60ZM1702.99 2124.60V1854.53H1708.18V2124.60ZM1708.18 2124.60V1847.66H1713.38V2124.60ZM1713.38 2124.60V1841.10H1718.57V2124.60ZM1718.57 2124.60V1835.14H1723.76V2124.60ZM1723.76 2124.60V1829.19H1728.95V2124.60ZM1728.95 2124.60V1823.53H1734.14V2124.60ZM1734.14 2124.60V1817.78H1739.33V2124.60ZM1739.33 2124.60V1812.32H1744.52V2124.60ZM1744.52 2124.60V1806.87H1749.71V2124.60ZM1749.71 2124.60V1801.42H1754.90V2124.60ZM1754.90 2124.60V1795.97H1760.09V2124.60ZM1760.09 2124.60V1790.62H1765.28V2124.60ZM1765.28 2124.60V1793.14H1770.48V2124.60ZM1770.48 2124.60V1786.48H1775.67V2124.60ZM1775.67 2124.60V1783.15H1780.86V2124.60ZM1780.86 2124.60V1779.31H1786.05V2124.60ZM1786.05 2124.60V1776.89H1791.24V2124.60ZM1791.24 2124.60V1771.03H1796.43V2124.60ZM1796.43 2124.60V1774.77H1801.62V2124.60ZM1801.62 2124.60V1769.82H1806.81V2124.60ZM1806.81 2124.60V1767.70H1812.00V2124.60ZM1812.00 2124.60V1765.98H1817.19V2124.60ZM1817.19 2124.60V1764.37H1822.39V2124.60ZM1822.39 2124.60V1760.43H1827.58V2124.60ZM1827.58 2124.60V1765.18H1832.77V2124.60ZM1832.77 2124.60V1762.15H1837.96V2124.60ZM1837.96 2124.60V1761.84H1843.15V2124.60ZM1843.15 2124.60V1761.84H1848.34V2124.60ZM1848.34 2124.60V1762.05H1853.53V2124.60ZM1853.53 2124.60V1762.25H1858.72V2124.60ZM1858.72 2124.60V1762.75H1863.91V2124.60ZM1863.91 2124.60V1763.06H1869.11V2124.60ZM1869.10 2124.60V1763.97H1874.30V2124.60ZM1874.30 2124.60V1762.25H1879.49V2124.60ZM1879.49 2124.60V1770.63H1884.68V2124.60ZM1884.68 2124.60V1769.32H1889.87V2124.60ZM1889.87 2124.60V1771.44H1895.06V2124.60ZM1895.06 2124.60V1773.96H1900.25V2124.60ZM1900.25 2124.60V1776.48H1905.44V2124.60ZM1905.44 2124.60V1779.82H1910.63V2124.60ZM1910.63 2124.60V1782.74H1915.82V2124.60ZM1915.82 2124.60V1785.57H1921.01V2124.60ZM1921.01 2124.60V1788.50H1926.21V2124.60ZM1926.21 2124.60V1791.53H1931.40V2124.60ZM1931.40 2124.60V1795.87H1936.59V2124.60ZM1936.59 2124.60V1798.90H1941.78V2124.60ZM1941.78 2124.60V1807.78H1946.97V2124.60ZM1946.97 2124.60V1813.74H1952.16V2124.60ZM1952.16 2124.60V1817.78H1957.35V2124.60ZM1957.35 2124.60V1824.14H1962.54V2124.60ZM1962.54 2124.60V1830.09H1967.73V2124.60ZM1967.73 2124.60V1836.45H1972.92V2124.60ZM1972.92 2124.60V1843.12H1978.12V2124.60ZM1978.12 2124.60V1849.98H1983.31V2124.60ZM1983.31 2124.60V1857.66H1988.50V2124.60ZM1988.50 2124.60V1864.93H1993.69V2124.60ZM1993.69 2124.60V1872.50H1998.88V2124.60ZM1998.88 2124.60V1879.97H2004.07V2124.60ZM2004.07 2124.60V1886.63H2009.26V2124.60ZM2009.26 2124.60V1896.63H2014.45V2124.60ZM2014.45 2124.60V1906.92H2019.64V2124.60ZM2019.64 2124.60V1914.19H2024.84V2124.60ZM2024.83 2124.60V1922.88H2030.03V2124.60ZM2030.03 2124.60V1931.56H2035.22V2124.60ZM2035.22 2124.60V1940.65H2040.41V2124.60ZM2040.41 2124.60V1949.73H2045.60V2124.60ZM2045.60 2124.60V1959.12H2050.79V2124.60ZM2050.79 2124.60V1968.51H2055.98V2124.60ZM2055.98 2124.60V1977.60H2061.17V2124.60ZM2061.17 2124.60V1986.68H2066.36V2124.60ZM2066.36 2124.60V1995.67H2071.55V2124.60ZM2071.55 2124.60V2006.57H2076.74V2124.60ZM2076.74 2124.60V2019.49H2081.94V2124.60ZM2081.94 2124.60V2029.79H2087.13V2124.60ZM2087.13 2124.60V2042.11H2092.32V2124.60ZM2092.32 2124.60V2054.23H2097.51V2124.60ZM2097.51 2124.60V1989.91H2102.70V2124.60Z" fill="#7fabd7" stroke="#70a5ee" stroke-width="1.9"/>
<line x1="1557.50" y1="1700.70" x2="1557.50" y2="2125.30" stroke="#000" stroke-width="1.4"/>
<line x1="1556.80" y1="2124.60" x2="2128.20" y2="2124.60" stroke="#000" stroke-width="1.4"/>
<line x1="1551.40" y1="2124.60" x2="1557.50" y2="2124.60" stroke="#000" stroke-width="1.4"/>
<text class="dv" x="1546.10" y="2124.90" dy="0.365em" font-size="19.05" text-anchor="end">0.0</text>
<line x1="1551.40" y1="2074.12" x2="1557.50" y2="2074.12" stroke="#000" stroke-width="1.4"/>
<text class="dv" x="1546.10" y="2074.42" dy="0.365em" font-size="19.05" text-anchor="end">0.5</text>
<line x1="1551.40" y1="2023.64" x2="1557.50" y2="2023.64" stroke="#000" stroke-width="1.4"/>
<text class="dv" x="1546.10" y="2023.94" dy="0.365em" font-size="19.05" text-anchor="end">1.0</text>
<line x1="1551.40" y1="1973.16" x2="1557.50" y2="1973.16" stroke="#000" stroke-width="1.4"/>
<text class="dv" x="1546.10" y="1973.46" dy="0.365em" font-size="19.05" text-anchor="end">1.5</text>
<line x1="1551.40" y1="1922.68" x2="1557.50" y2="1922.68" stroke="#000" stroke-width="1.4"/>
<text class="dv" x="1546.10" y="1922.98" dy="0.365em" font-size="19.05" text-anchor="end">2.0</text>
<line x1="1551.40" y1="1872.20" x2="1557.50" y2="1872.20" stroke="#000" stroke-width="1.4"/>
<text class="dv" x="1546.10" y="1872.50" dy="0.365em" font-size="19.05" text-anchor="end">2.5</text>
<line x1="1551.40" y1="1821.72" x2="1557.50" y2="1821.72" stroke="#000" stroke-width="1.4"/>
<text class="dv" x="1546.10" y="1822.02" dy="0.365em" font-size="19.05" text-anchor="end">3.0</text>
<line x1="1551.40" y1="1771.24" x2="1557.50" y2="1771.24" stroke="#000" stroke-width="1.4"/>
<text class="dv" x="1546.10" y="1771.54" dy="0.365em" font-size="19.05" text-anchor="end">3.5</text>
<line x1="1551.40" y1="1720.76" x2="1557.50" y2="1720.76" stroke="#000" stroke-width="1.4"/>
<text class="dv" x="1546.10" y="1721.06" dy="0.365em" font-size="19.05" text-anchor="end">4.0</text>
<line x1="1583.30" y1="2124.60" x2="1583.30" y2="2130.70" stroke="#000" stroke-width="1.4"/>
<line x1="1687.12" y1="2124.60" x2="1687.12" y2="2130.70" stroke="#000" stroke-width="1.4"/>
<line x1="1790.94" y1="2124.60" x2="1790.94" y2="2130.70" stroke="#000" stroke-width="1.4"/>
<line x1="1894.76" y1="2124.60" x2="1894.76" y2="2130.70" stroke="#000" stroke-width="1.4"/>
<line x1="1998.58" y1="2124.60" x2="1998.58" y2="2130.70" stroke="#000" stroke-width="1.4"/>
<line x1="2102.40" y1="2124.60" x2="2102.40" y2="2130.70" stroke="#000" stroke-width="1.4"/>
<text class="dv" transform="translate(1500.00 1912.50) rotate(-90.00)" dy="0.27em" font-size="19.05" text-anchor="middle">Amino Acid Count</text>
<text class="dv" x="1557.70" y="1696.10" font-size="19.05">1e6</text>
<text class="dv" x="1583.30" y="2151.50" font-size="19.05" text-anchor="middle">0.0</text>
<text class="dv" x="1687.12" y="2151.50" font-size="19.05" text-anchor="middle">0.2</text>
<text class="dv" x="1790.94" y="2151.50" font-size="19.05" text-anchor="middle">0.4</text>
<text class="dv" x="1894.76" y="2151.50" font-size="19.05" text-anchor="middle">0.6</text>
<text class="dv" x="1998.58" y="2151.50" font-size="19.05" text-anchor="middle">0.8</text>
<text class="dv" x="2102.40" y="2151.50" font-size="19.05" text-anchor="middle">1.0</text>
<text class="dv" x="1842.80" y="2174.50" font-size="19.05" text-anchor="middle">Normalized Coordinates</text>
<rect x="2045.8" y="1718.40" width="38.4" height="13.4" fill="#78cc9e" stroke="#62aa84" stroke-width="1"/>
<text class="dv" x="2100.00" y="1726.10" dy="0.30em" font-size="19.05">x</text>
<rect x="2045.8" y="1746.60" width="38.4" height="13.4" fill="#eac28c" stroke="#d8ae7c" stroke-width="1"/>
<text class="dv" x="2100.00" y="1754.30" dy="0.30em" font-size="19.05">y</text>
<rect x="2045.8" y="1774.80" width="38.4" height="13.4" fill="#8abbf6" stroke="#7aa6e0" stroke-width="1"/>
<text class="dv" x="2100.00" y="1782.50" dy="0.30em" font-size="19.05">z</text>
<text class="dvb" x="1463.40" y="1689.60" font-size="25.5">l.</text>
</g>
</svg>
</body>
</html>
